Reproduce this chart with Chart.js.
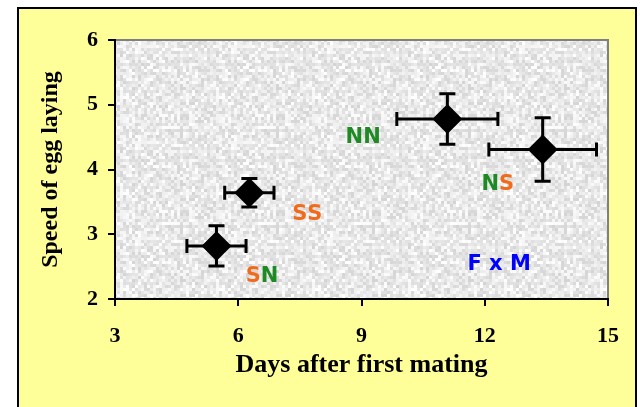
<!DOCTYPE html>
<html>
<head>
<meta charset="utf-8">
<script src="https://cdn.jsdelivr.net/npm/chart.js@4/dist/chart.umd.min.js"></script>
<style>
  html, body { margin: 0; padding: 0; background: #fff; }
  #wrap { width: 640px; height: 407px; }
</style>
</head>
<body>
<div id="wrap"><canvas id="myChart" width="640" height="407"></canvas></div>
<script>
// crosses: female x male, mean with error on both axes
var groups = ['SN', 'SS', 'NN', 'NS'];
var days = [5.47, 6.27, 11.09, 13.41];
var daysErr = [0.72, 0.6, 1.23, 1.31];
var speed = [2.82, 3.64, 4.78, 4.31];
var speedErr = [0.31, 0.22, 0.39, 0.49];

// text labels placed in the plot (data coordinates)
var labelText = ['SN', 'SS', 'NN', 'NS', 'F x M'];
var labelX = [6.58, 7.67, 9.04, 12.32, 12.35];
var labelY = [2.34, 3.30, 4.49, 3.76, 2.53];

var xTicks = [3, 6, 9, 12, 15];
var yTicks = [2, 3, 4, 5, 6];

var letterColors = {
    "N": "#1d8a23",
    "S": "#f26b1d"
};

function makeTexture() {
    var c = document.createElement('canvas');
    c.width = 96;
    c.height = 96;
    var g = c.getContext('2d');
    for (var y = 0; y < 96; y += 3) {
        for (var x = 0; x < 96; x += 3) {
            var h = Math.abs(Math.sin(x * 12.9898 + y * 78.233) * 43758.5453) % 1;
            var v = Math.round(212 + h * 43);
            g.fillStyle = 'rgb(' + v + ',' + v + ',' + v + ')';
            g.fillRect(x, y, 3, 3);
        }
    }
    return c;
}

var backdrop = {
    id: 'backdrop',
    beforeDraw: function(chart) {
        var ctx = chart.ctx, a = chart.chartArea;
        ctx.save();
        ctx.fillStyle = '#fff';
        ctx.fillRect(0, 0, chart.width, chart.height);
        ctx.fillStyle = '#ffff99';
        ctx.fillRect(18, 8, 618, 420);
        ctx.strokeStyle = '#000';
        ctx.lineWidth = 2;
        ctx.strokeRect(18, 8, 618, 420);
        ctx.fillStyle = ctx.createPattern(makeTexture(), 'repeat');
        ctx.fillRect(a.left, a.top, a.right - a.left, a.bottom - a.top);
        ctx.strokeStyle = '#808080';
        ctx.lineWidth = 2;
        ctx.beginPath();
        ctx.moveTo(a.left, a.top);
        ctx.lineTo(a.right, a.top);
        ctx.lineTo(a.right, a.bottom);
        ctx.stroke();
        ctx.restore();
    }
};

var errorBars = {
    id: 'errorBars',
    beforeDatasetsDraw: function(chart) {
        var ctx = chart.ctx, xs = chart.scales.x, ys = chart.scales.y;
        ctx.save();
        ctx.strokeStyle = '#000';
        ctx.lineWidth = 3;
        days.forEach(function(d, i) {
            var px = xs.getPixelForValue(d), py = ys.getPixelForValue(speed[i]);
            var x0 = xs.getPixelForValue(d - daysErr[i]), x1 = xs.getPixelForValue(d + daysErr[i]);
            var y0 = ys.getPixelForValue(speed[i] - speedErr[i]), y1 = ys.getPixelForValue(speed[i] + speedErr[i]);
            ctx.beginPath();
            ctx.moveTo(x0, py); ctx.lineTo(x1, py);
            ctx.moveTo(x0, py - 7); ctx.lineTo(x0, py + 7);
            ctx.moveTo(x1, py - 7); ctx.lineTo(x1, py + 7);
            ctx.moveTo(px, y0); ctx.lineTo(px, y1);
            ctx.moveTo(px - 8, y0); ctx.lineTo(px + 8, y0);
            ctx.moveTo(px - 8, y1); ctx.lineTo(px + 8, y1);
            ctx.stroke();
        });
        ctx.restore();
    }
};

var textLabels = {
    id: 'textLabels',
    afterDraw: function(chart) {
        var ctx = chart.ctx, xs = chart.scales.x, ys = chart.scales.y;
        ctx.save();
        ctx.font = 'bold 21px "DejaVu Sans"';
        ctx.textBaseline = 'middle';
        ctx.textAlign = 'left';
        labelText.forEach(function(t, i) {
            var cx = xs.getPixelForValue(labelX[i]), cy = ys.getPixelForValue(labelY[i]);
            var x = cx - ctx.measureText(t).width / 2;
            t.split('').forEach(function(ch) {
                ctx.fillStyle = letterColors[ch] || '#0000ff';
                ctx.fillText(ch, x, cy);
                x += ctx.measureText(ch).width;
            });
        });
        ctx.restore();
    }
};

var tickFont = { family: '"Liberation Serif"', size: 22, weight: 'bold' };

var config = {
    type: 'scatter',
    data: {
        labels: groups,
        datasets: [{
            data: days.map(function(d, i) { return { x: d, y: speed[i] }; }),
            pointStyle: 'rectRot',
            pointRadius: 15,
            pointHoverRadius: 15,
            backgroundColor: '#000',
            borderWidth: 0
        }]
    },
    options: {
        responsive: false,
        animation: false,
        layout: { padding: { top: 40, right: 32, left: 0, bottom: 0 } },
        plugins: { legend: { display: false }, tooltip: { enabled: false } },
        scales: {
            x: {
                type: 'linear',
                min: xTicks[0],
                max: xTicks[xTicks.length - 1],
                afterBuildTicks: function(s) { s.ticks = xTicks.map(function(v) { return { value: v }; }); },
                afterFit: function(s) { s.height = 108; },
                ticks: { color: '#000', font: tickFont, padding: 17, maxRotation: 0 },
                grid: { drawOnChartArea: false, drawTicks: true, tickLength: 7, color: '#000', lineWidth: 2 },
                border: { color: '#000', width: 2 },
                title: {
                    display: true,
                    text: 'Days after first mating',
                    color: '#000',
                    font: { family: '"Liberation Serif"', size: 26, weight: 'bold' },
                    padding: { top: 0, bottom: 26 }
                }
            },
            y: {
                min: yTicks[0],
                max: yTicks[yTicks.length - 1],
                afterBuildTicks: function(s) { s.ticks = yTicks.map(function(v) { return { value: v }; }); },
                afterFit: function(s) { s.width = 115; },
                ticks: { color: '#000', font: tickFont, padding: 10 },
                grid: { drawOnChartArea: false, drawTicks: true, tickLength: 7, color: '#000', lineWidth: 2 },
                border: { color: '#000', width: 2 },
                title: {
                    display: true,
                    text: 'Speed of egg laying',
                    color: '#000',
                    font: { family: '"Liberation Serif"', size: 24, weight: 'bold' },
                    padding: { top: 36, bottom: 0 }
                }
            }
        }
    },
    plugins: [backdrop, errorBars, textLabels]
};

var myChart = new Chart(document.getElementById('myChart').getContext('2d'), config);
</script>
</body>
</html>
